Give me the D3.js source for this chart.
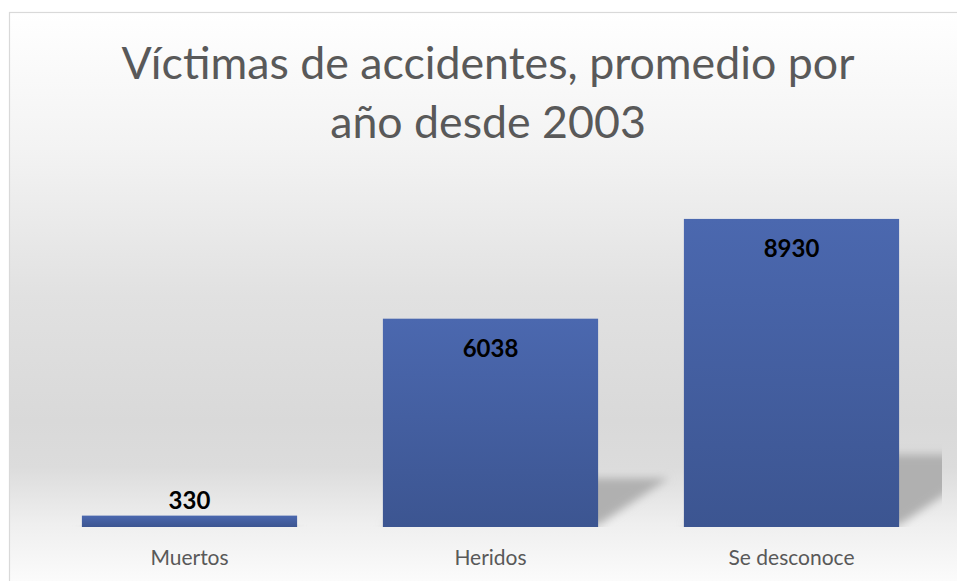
<!DOCTYPE html>
<html>
<head>
<meta charset="utf-8">
<script src="https://cdn.jsdelivr.net/npm/d3@7"></script>
<style>
  html, body { margin: 0; padding: 0; background: #ffffff; overflow: hidden; }
  svg { display: block; }
</style>
</head>
<body>
<svg id="chart"></svg>
<script>
'use strict';

/*
    Data
*/

const CATEGORIES  = ['Muertos', 'Heridos', 'Se desconoce'];
const VALUES      = [330, 6038, 8930];
const TITLE_LINES = ['Víctimas de accidentes, promedio por', 'año desde 2003'];

/*
    Constants
*/

const WIDTH  = 957;
const HEIGHT = 581;

const PLOT = Object.freeze({
    LEFT   : 39,
    RIGHT  : 942,
    TOP    : 182,
    BOTTOM : 527
});

const FONT = "Lato, 'Open Sans', 'Noto Sans', sans-serif";

const SVG = d3.select('#chart')
    .attr('width', WIDTH)
    .attr('height', HEIGHT);

const defs = SVG.append('defs');

// chart background: white at top, grey behind the bars, white again at bottom
const bg = defs.append('linearGradient')
    .attr('id', 'bg')
    .attr('gradientUnits', 'userSpaceOnUse')
    .attr('x1', 0).attr('y1', 12)
    .attr('x2', 0).attr('y2', 581);
[[0, '#ffffff'], [0.24, '#f3f3f3'], [0.5, '#e1e1e1'], [0.72, '#d9d9d9'],
 [0.8, '#dcdcdc'], [0.9, '#efefef'], [1, '#fbfbfb']]
    .forEach(s => bg.append('stop').attr('offset', s[0]).attr('stop-color', s[1]));

const barGrad = defs.append('linearGradient')
    .attr('id', 'bar')
    .attr('x1', 0).attr('y1', 0)
    .attr('x2', 0).attr('y2', 1);
barGrad.append('stop').attr('offset', 0).attr('stop-color', '#4b68af');
barGrad.append('stop').attr('offset', 1).attr('stop-color', '#3c5591');

defs.append('filter')
    .attr('id', 'blur')
    .attr('x', '-20%').attr('y', '-20%')
    .attr('width', '140%').attr('height', '140%')
  .append('feGaussianBlur')
    .attr('stdDeviation', 4);

defs.append('clipPath')
    .attr('id', 'plotClip')
  .append('rect')
    .attr('x', PLOT.LEFT)
    .attr('y', PLOT.TOP - 60)
    .attr('width', PLOT.RIGHT - PLOT.LEFT)
    .attr('height', PLOT.BOTTOM - PLOT.TOP + 60);

/*
    Scales
*/

const x = d3.scaleBand()
    .domain(CATEGORIES)
    .range([PLOT.LEFT, PLOT.RIGHT])
    .paddingInner(0.285)
    .paddingOuter(0.1425);

const y = d3.scaleLinear()
    .domain([0, 10000])
    .range([PLOT.BOTTOM, PLOT.TOP]);

const data = CATEGORIES.map((c, i) => ({ category : c, value : VALUES[i] }));

/*
    Chart frame
*/

SVG.append('rect')
    .attr('x', 9.5)
    .attr('y', 12.5)
    .attr('width', WIDTH)
    .attr('height', HEIGHT)
    .attr('fill', 'url(#bg)')
    .attr('stroke', '#d9d9d9')
    .attr('stroke-width', 1.2);

/*
    Title
*/

const title = SVG.append('text')
    .attr('text-anchor', 'middle')
    .attr('fill', '#595959')
    .style('font-family', FONT)
    .style('font-size', '40px');

title.selectAll('tspan')
    .data(TITLE_LINES)
    .join('tspan')
    .attr('x', 488)
    .attr('y', (d, i) => 79 + i * 59)
    .text(d => d);

// fit the first line to the width it has in the picture
const firstLine = title.select('tspan').node().getComputedTextLength();
title.style('font-size', (40 * 733 / firstLine) + 'px');

/*
    Bars
*/

const plot = SVG.append('g').attr('clip-path', 'url(#plotClip)');

// perspective shadows cast to the right of each bar
plot.selectAll('.shadow')
    .data(data)
    .join('polygon')
    .attr('class', 'shadow')
    .attr('fill', '#b0b0b0')
    .attr('filter', 'url(#blur)')
    .attr('points', d => {
        const x0 = x(d.category);
        const x1 = x0 + x.bandwidth();
        const h  = y(0) - y(d.value);
        const dx = h * 0.34;
        const dy = h * 0.235;
        return [[x0, y(0) - 2], [x1, y(0) - 2],
                [x1 + dx, y(0) - dy], [x0 + dx, y(0) - dy]].join(' ');
    });

plot.selectAll('.floor')
    .data(data)
    .join('rect')
    .attr('class', 'floor')
    .attr('x', d => x(d.category))
    .attr('y', y(0) - 1)
    .attr('width', x.bandwidth())
    .attr('height', 4)
    .attr('fill', '#d0d0d0')
    .attr('filter', 'url(#blur)');

plot.selectAll('.bar')
    .data(data)
    .join('rect')
    .attr('class', 'bar')
    .attr('x', d => x(d.category))
    .attr('y', d => y(d.value))
    .attr('width', x.bandwidth())
    .attr('height', d => y(0) - y(d.value))
    .attr('fill', 'url(#bar)');

/*
    Value labels (inside the top of tall bars, above short ones)
*/

SVG.selectAll('.value')
    .data(data)
    .join('text')
    .attr('class', 'value')
    .attr('x', d => x(d.category) + x.bandwidth() / 2)
    .attr('y', d => (y(0) - y(d.value)) > 50 ? y(d.value) + 38 : y(d.value) - 7)
    .attr('text-anchor', 'middle')
    .attr('fill', '#000000')
    .style('font-family', FONT)
    .style('font-weight', 'bold')
    .style('font-size', '24px')
    .text(d => d.value);

/*
    Category axis
*/

const xAxis = d3.axisBottom(x).tickSize(0).tickPadding(23);

SVG.append('g')
    .attr('transform', `translate(0,${PLOT.BOTTOM})`)
    .call(xAxis)
    .call(g => g.select('.domain').remove())
    .call(g => g.selectAll('text')
        .attr('fill', '#595959')
        .style('font-family', FONT)
        .style('font-size', '21px'));
</script>
</body>
</html>
